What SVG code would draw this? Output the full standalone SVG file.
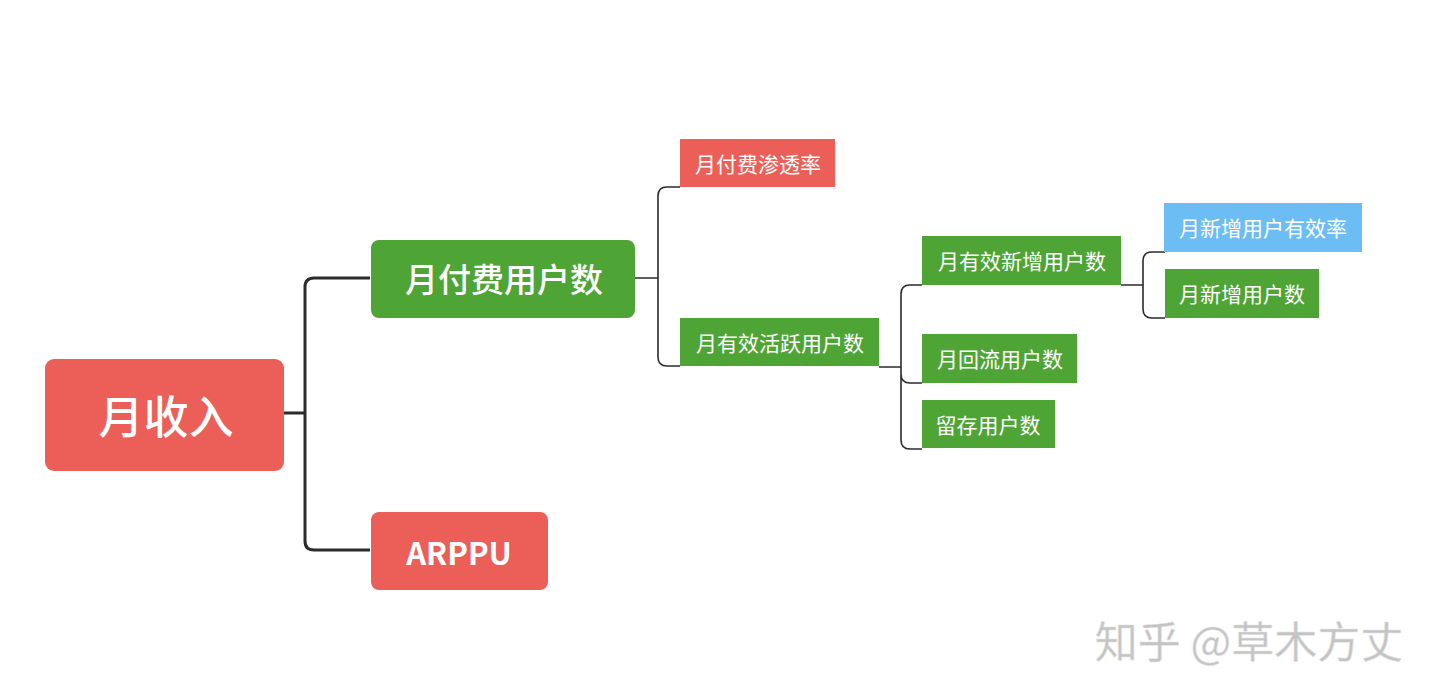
<svg xmlns="http://www.w3.org/2000/svg" width="1440" height="697" viewBox="0 0 1440 697">
<style>
text{font-family:"Noto Sans CJK SC","Noto Sans",sans-serif;fill:#fff;text-anchor:middle;dominant-baseline:central}
.red{fill:#EC5F59}.green{fill:#4EA535}.blue{fill:#6DBDF5}
.c1{fill:none;stroke:#2b2b2b;stroke-width:3}
.c2{fill:none;stroke:#2b2b2b;stroke-width:1.6}
.s{font-size:21px}
</style>
<rect width="1440" height="697" fill="#fff"/>
<g id="connectors">
<path class="c1" d="M284,413 H305 M370,278 H314 Q305,278 305,287 V541 Q305,550 314,550 H370"/>
<path class="c2" d="M635,278 H658 M680,187 H667 Q658,187 658,196 V357 Q658,366 667,366 H680"/>
<path class="c2" d="M879,367 H901 M922,285 H910 Q901,285 901,294 V440 Q901,449 910,449 H922 M901,383 V374 Q901,383 910,383 H922"/>
<path class="c2" d="M1121,285 H1143 M1165,252 H1152 Q1143,252 1143,261 V309 Q1143,318 1152,318 H1165"/>
</g>
<g id="root"><rect class="red" x="45" y="359" width="239" height="112" rx="9"/><text x="166" y="414" font-size="45" font-weight="500">月收入</text></g>
<g id="n1"><rect class="green" x="371" y="240" width="264" height="78" rx="8"/><text x="504" y="278" font-size="33" font-weight="500">月付费用户数</text></g>
<g id="n2"><rect class="red" x="371" y="512" width="177" height="78" rx="8"/><text x="459" y="551" font-size="31" font-weight="600" font-family="Open Sans,sans-serif">ARPPU</text></g>
<g id="n3"><rect class="red" x="680" y="139" width="155" height="48"/><text class="s" x="758" y="163">月付费渗透率</text></g>
<g id="n4"><rect class="green" x="680" y="318" width="199" height="48"/><text class="s" x="780" y="342">月有效活跃用户数</text></g>
<g id="n5"><rect class="green" x="922" y="236" width="199" height="49"/><text class="s" x="1022" y="260">月有效新增用户数</text></g>
<g id="n6"><rect class="green" x="922" y="334" width="155" height="49"/><text class="s" x="1000" y="358">月回流用户数</text></g>
<g id="n7"><rect class="green" x="922" y="400" width="133" height="48"/><text class="s" x="988" y="424">留存用户数</text></g>
<g id="n8"><rect class="blue" x="1164" y="203" width="198" height="49"/><text class="s" x="1263" y="227">月新增用户有效率</text></g>
<g id="n9"><rect class="green" x="1165" y="269" width="154" height="49"/><text class="s" x="1242" y="293">月新增用户数</text></g>
<text x="1249" y="639" font-size="43" style="fill:#c4c4c4" stroke="#e6e6e6" stroke-width="0.5">知乎 @草木方丈</text>
</svg>
